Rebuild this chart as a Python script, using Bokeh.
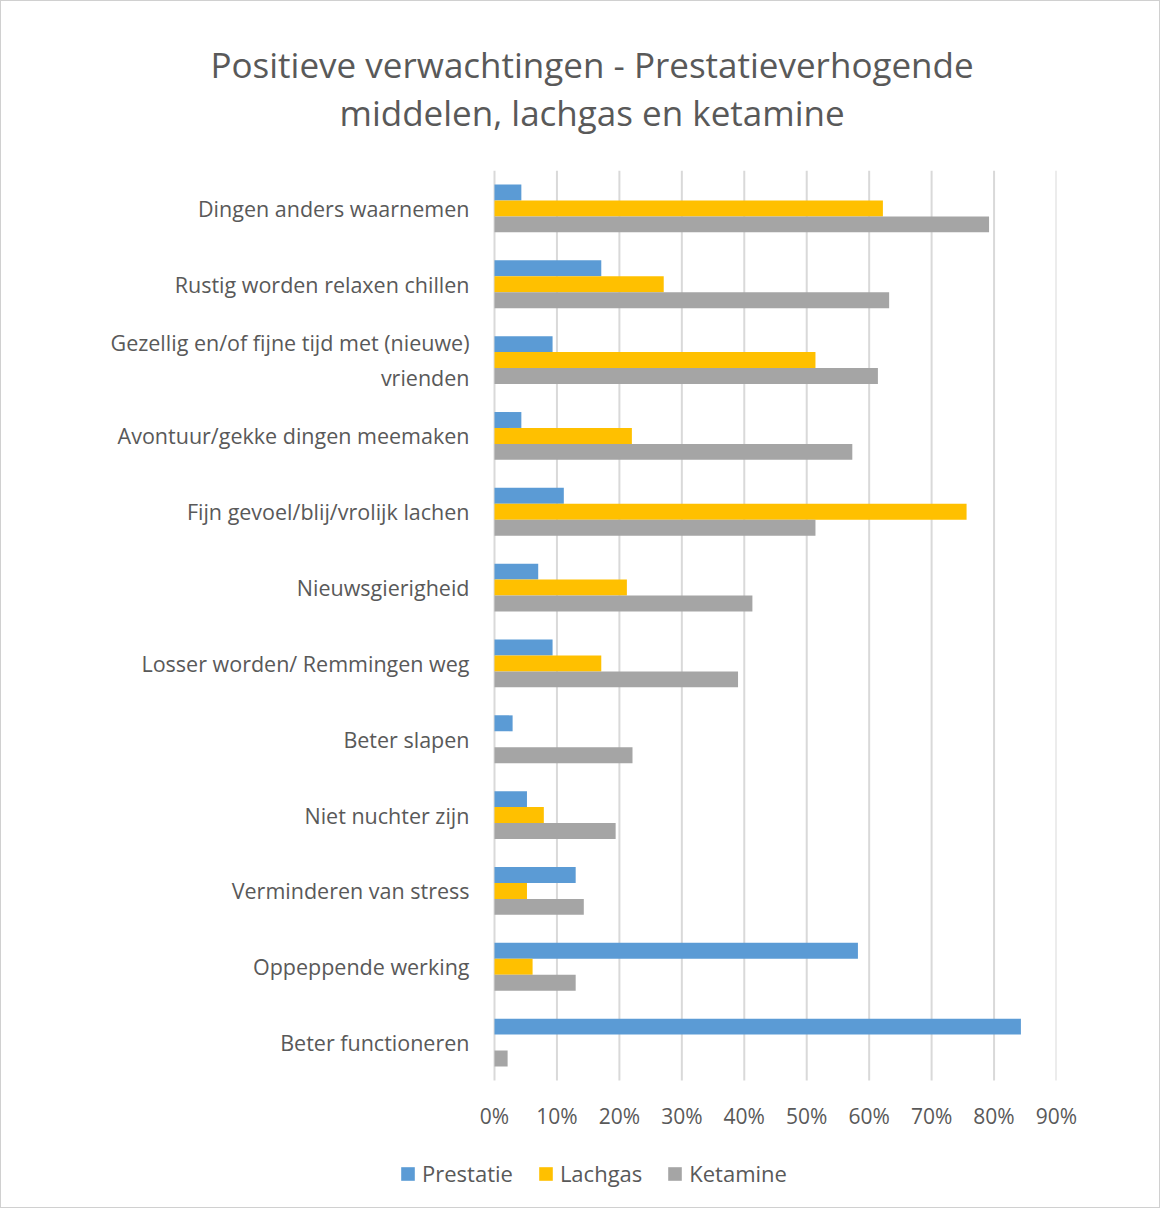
from bokeh.plotting import figure
from bokeh.models import (ColumnDataSource, Range1d, NumeralTickFormatter, FixedTicker,
                          Legend, LegendItem, Title)
from bokeh.transform import dodge
from bokeh.embed import file_html
from bokeh.resources import INLINE

categories = [
    "Dingen anders waarnemen",
    "Rustig worden relaxen chillen",
    "Gezellig en/of fijne tijd met (nieuwe)\nvrienden",
    "Avontuur/gekke dingen meemaken",
    "Fijn gevoel/blij/vrolijk lachen",
    "Nieuwsgierigheid",
    "Losser worden/ Remmingen weg",
    "Beter slapen",
    "Niet nuchter zijn",
    "Verminderen van stress",
    "Oppeppende werking",
    "Beter functioneren",
]
prestatie = [0.043, 0.171, 0.093, 0.043, 0.111, 0.070, 0.093, 0.029, 0.052, 0.130, 0.582, 0.843]
lachgas = [0.622, 0.271, 0.514, 0.220, 0.756, 0.212, 0.171, 0.0, 0.079, 0.052, 0.061, 0.0]
ketamine = [0.792, 0.632, 0.614, 0.573, 0.514, 0.413, 0.390, 0.221, 0.194, 0.143, 0.130, 0.021]
x_ticks = [0.0, 0.1, 0.2, 0.3, 0.4, 0.5, 0.6, 0.7, 0.8, 0.9]
series_names = ["Prestatie", "Lachgas", "Ketamine"]
title_lines = ["Positieve verwachtingen - Prestatieverhogende", "middelen, lachgas en ketamine"]
colors = ["#5B9BD5", "#FFC000", "#A5A5A5"]

TEXT = "#595959"
FONT = "Open Sans"

n = len(categories)
ypos = [n - 1 - i for i in range(n)]  # first category on top
src = ColumnDataSource(dict(y=ypos, cat=categories, prestatie=prestatie,
                            lachgas=lachgas, ketamine=ketamine))

# layout (pixels): frame spans the legend area too, so nothing gets clipped
W, H = 1160, 1208
ML, MR, MT, MB = 399, 105, 169, 8
zero_px = 94            # distance from frame left to the 0% line
bars_bottom_px = 1079   # where the category band ends
frame_w = W - ML - MR
frame_bottom = H - MB
band = (bars_bottom_px - MT) / n
x_max = x_ticks[-1]
x_start = -x_max * zero_px / (frame_w - zero_px)
y_start = -0.5 - (frame_bottom - bars_bottom_px) / band

p = figure(
    width=W, height=H, title=None,
    x_range=Range1d(x_start, x_max), y_range=Range1d(y_start, n - 0.5),
    output_backend="svg", toolbar_location=None,
    min_border_left=ML, min_border_right=MR, min_border_bottom=MB, min_border_top=MT,
)
p.outline_line_color = None
p.styles = {"border": "1px solid #D0D0D0"}

# title, two centred lines (inner line added first)
t2 = Title(text=title_lines[1], align="left", offset=-61, standoff=70,
           text_font=FONT, text_font_size="35px", text_font_style="normal", text_color=TEXT)
t1 = Title(text=title_lines[0], align="left", offset=-190, standoff=-72,
           text_font=FONT, text_font_size="35px", text_font_style="normal", text_color=TEXT)
p.add_layout(t2, "above")
p.add_layout(t1, "above")

# vertical gridlines over the category band only
p.segment(x0=x_ticks, x1=x_ticks, y0=[-0.5] * len(x_ticks), y1=[n - 0.5] * len(x_ticks),
          line_color="#D9D9D9", line_width=2)

bh = 0.21
renderers = []
for col, off, c in zip(["prestatie", "lachgas", "ketamine"], [bh, 0.0, -bh], colors):
    r = p.hbar(y=dodge("y", off), right=col, left=0, height=bh,
               source=src, fill_color=c, line_color=None)
    renderers.append(r)

p.xgrid.grid_line_color = None
p.ygrid.grid_line_color = None

p.xaxis.ticker = FixedTicker(ticks=x_ticks)
p.xaxis.formatter = NumeralTickFormatter(format="0%")
p.xaxis.axis_line_color = None
p.xaxis.major_tick_line_color = None
p.xaxis.minor_tick_line_color = None
p.xaxis.major_tick_out = 0
p.xaxis.major_label_standoff = -100
p.xaxis.major_label_text_font = FONT
p.xaxis.major_label_text_font_size = "21px"
p.xaxis.major_label_text_color = TEXT

p.yaxis.ticker = FixedTicker(ticks=ypos)
p.yaxis.major_label_overrides = {y: c for y, c in zip(ypos, categories)}
p.yaxis.axis_line_color = None
p.yaxis.major_tick_line_color = None
p.yaxis.minor_tick_line_color = None
p.yaxis.major_tick_out = 0
p.yaxis.major_label_standoff = -69
p.yaxis.major_label_text_font = FONT
p.yaxis.major_label_text_font_size = "21.5px"
p.yaxis.major_label_text_color = TEXT

legend = Legend(
    items=[LegendItem(label=nm, renderers=[r]) for nm, r in zip(series_names, renderers)],
    orientation="horizontal", location=(-1, 13),
    border_line_color=None, background_fill_alpha=0,
    label_text_font=FONT, label_text_font_size="22px", label_text_color=TEXT,
    glyph_width=17, glyph_height=17, spacing=24, label_standoff=6,
    padding=0, margin=0,
)
p.add_layout(legend, "center")

open("out.html", "w").write(file_html(p, INLINE))
